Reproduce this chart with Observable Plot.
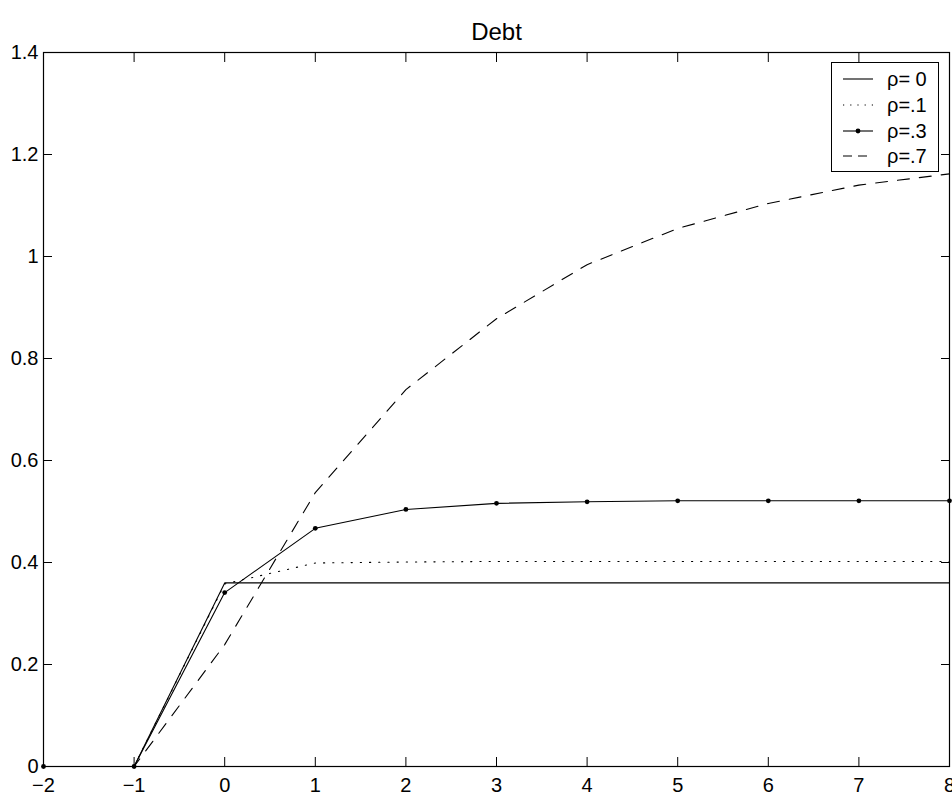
<!DOCTYPE html>
<html><head><meta charset="utf-8">
<script src="https://cdn.jsdelivr.net/npm/d3@7"></script>
<script src="https://cdn.jsdelivr.net/npm/@observablehq/plot@0.6"></script>
<style>
body{margin:0;background:#fff;}
#wrap{position:relative;width:952px;height:792px;font-family:"Liberation Sans",Arial,Helvetica,sans-serif;}
#legend{position:absolute;left:831px;top:62px;width:106px;height:108px;border:1px solid #000;background:#fff;}
.row{position:absolute;left:0;width:106px;height:26px;}
.row svg{position:absolute;left:10px;top:0;}
.row span{position:absolute;left:55px;top:0;line-height:26px;font-size:20px;color:#000;white-space:nowrap;}
</style>
</head><body>
<div id="wrap"><div id="chart"></div><div id="legend"></div></div>
<script>
const title = "Debt";
const periods = [-2, -1, 0, 1, 2, 3, 4, 5, 6, 7, 8];
const rho0 = [0, 0, 0.360, 0.360, 0.360, 0.360, 0.360, 0.360, 0.360, 0.360, 0.360];
const rho1 = [0, 0, 0.358, 0.399, 0.401, 0.402, 0.402, 0.402, 0.402, 0.402, 0.402];
const rho3 = [0, 0, 0.341, 0.467, 0.504, 0.516, 0.519, 0.521, 0.521, 0.521, 0.521];
const rho7 = [0, 0, 0.239, 0.537, 0.739, 0.878, 0.984, 1.055, 1.104, 1.140, 1.162];
const seriesLabels = ["ρ= 0", "ρ=.1", "ρ=.3", "ρ=.7"];
const xTicks = [-2, -1, 0, 1, 2, 3, 4, 5, 6, 7, 8];
const yTicks = [0, 0.2, 0.4, 0.6, 0.8, 1.0, 1.2, 1.4];
const yTickLabels = ["0", "0.2", "0.4", "0.6", "0.8", "1", "1.2", "1.4"];

const rows = periods.map((p, i) => ({period: p, r0: rho0[i], r1: rho1[i], r3: rho3[i], r7: rho7[i]}));
const yLab = new Map(yTicks.map((t, i) => [t, yTickLabels[i]]));

const W = 952, H = 792, mL = 43, mR = 3, mT = 52, mB = 26, TK = 9;

const styles = [
  {dash: null, dots: false},
  {dash: "1.2,8", dots: false},
  {dash: null, dots: true},
  {dash: "12,10", dots: false}
];
const keys = ["r0", "r1", "r3", "r7"];
const blank = () => "";

const chart = Plot.plot({
  width: W, height: H,
  marginLeft: mL, marginRight: mR, marginTop: mT, marginBottom: mB,
  style: {fontFamily: "'Liberation Sans', Arial, Helvetica, sans-serif", fontSize: "20px", color: "#000", background: "#fff"},
  x: {domain: [-2, 8]},
  y: {domain: [0, 1.4]},
  marks: [
    Plot.axisX(xTicks, {anchor: "bottom", tickSize: 0, tickPadding: 11, label: null, fontSize: 20}),
    Plot.axisY(yTicks, {anchor: "left", tickSize: 0, tickPadding: 5, label: null, fontSize: 20, tickFormat: d => yLab.get(d)}),
    Plot.axisX(xTicks, {anchor: "bottom", tickSize: TK, dy: -TK, tickFormat: blank, label: null, stroke: "black"}),
    Plot.axisX(xTicks, {anchor: "top", tickSize: TK, dy: TK, tickFormat: blank, label: null, stroke: "black"}),
    Plot.axisY(yTicks, {anchor: "left", tickSize: TK, dx: TK, tickFormat: blank, label: null, stroke: "black"}),
    Plot.axisY(yTicks, {anchor: "right", tickSize: TK, dx: -TK, tickFormat: blank, label: null, stroke: "black"}),
    ...keys.map((k, i) => Plot.line(rows, {x: "period", y: k, stroke: "black", strokeWidth: 1.1, strokeDasharray: styles[i].dash})),
    Plot.dot(rows, {x: "period", y: "r3", r: 2.4, fill: "black", stroke: null}),
    Plot.frame({stroke: "black", strokeWidth: 1.2}),
    Plot.text([title], {frameAnchor: "top", dy: -13, lineAnchor: "bottom", fontSize: 24})
  ]
});
document.getElementById("chart").appendChild(chart);

const legend = document.getElementById("legend");
seriesLabels.forEach((lab, i) => {
  const row = document.createElement("div");
  row.className = "row";
  row.style.top = (3 + i * 25.8) + "px";
  const s = styles[i];
  row.innerHTML = `<svg width="32" height="26"><line x1="1" x2="31" y1="13" y2="13" stroke="black" stroke-width="1.1" ${s.dash ? `stroke-dasharray="${s.dash === "12,10" ? "9,6" : "1.2,6"}"` : ""}/>${s.dots ? '<circle cx="16" cy="13" r="2.4" fill="black"/>' : ""}</svg><span>${lab}</span>`;
  legend.appendChild(row);
});
</script>
</body></html>
